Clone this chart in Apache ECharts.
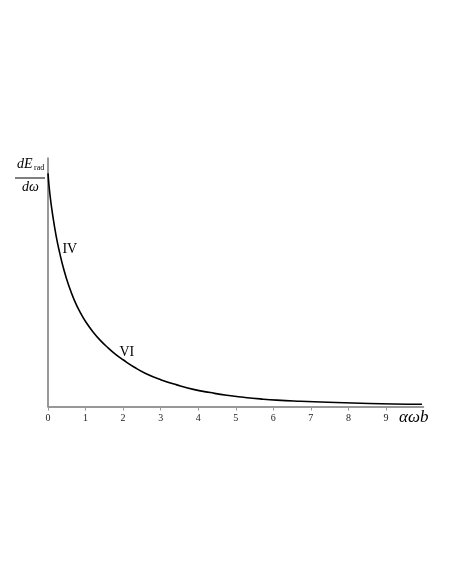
<!DOCTYPE html>
<html>
<head>
<meta charset="utf-8">
<script src="https://cdn.jsdelivr.net/npm/echarts@6/dist/echarts.min.js"></script>
<style>html,body{margin:0;padding:0;background:#fff;}#c{width:454px;height:588px;}</style>
</head>
<body>
<div id="c"></div>
<script>
const xValues = [0, 0.05, 0.13, 0.22, 0.31, 0.42, 0.55, 0.70, 0.85, 1.0, 1.2, 1.4, 1.6, 1.8, 2.0, 2.3, 2.6, 3.0, 3.43, 3.87, 4.32, 4.76, 5.21, 5.65, 6.09, 6.72, 7.45, 8.33, 9.2, 9.96];
const yValues = [0.938, 0.855, 0.765, 0.684, 0.619, 0.552, 0.488, 0.428, 0.381, 0.342, 0.300, 0.265, 0.236, 0.210, 0.188, 0.158, 0.133, 0.108, 0.087, 0.069, 0.056, 0.045, 0.037, 0.0305, 0.0255, 0.021, 0.017, 0.013, 0.010, 0.009];
const tickLabels = [0, 1, 2, 3, 4, 5, 6, 7, 8, 9];
const curveLabels = [
  { name: 'IV', x: 0.58, y: 0.634 },
  { name: 'VI', x: 2.1, y: 0.219 }
];

const chart = echarts.init(document.getElementById('c'));
const serif = '"Liberation Serif", "DejaVu Serif", serif';
chart.setOption({
  animation: false,
  backgroundColor: '#fff',
  grid: { left: 48, top: 158, right: 30.5, bottom: 181.5, containLabel: false },
  xAxis: {
    type: 'value', min: 0, max: 10, interval: 1,
    axisLine: { lineStyle: { color: '#777', width: 1.5 } },
    axisTick: { show: true, length: 4, inside: false, customValues: tickLabels, lineStyle: { color: '#999', width: 1 } },
    axisLabel: { customValues: tickLabels, color: '#222', fontFamily: serif, fontSize: 10, margin: 7 },
    splitLine: { show: false }
  },
  yAxis: {
    type: 'value', min: 0, max: 1,
    axisLine: { show: true, lineStyle: { color: '#777', width: 1.5 } },
    axisTick: { show: false },
    axisLabel: { show: false },
    splitLine: { show: false }
  },
  series: [{
    type: 'line',
    data: xValues.map((x, i) => [x, yValues[i]]),
    smooth: 0.5,
    symbol: 'none',
    lineStyle: { color: '#000', width: 1.6 },
    markPoint: {
      symbol: 'circle', symbolSize: 0,
      data: curveLabels.map(l => ({ name: l.name, coord: [l.x, l.y] })),
      label: { show: true, position: 'inside', formatter: p => p.name, color: '#000', fontFamily: serif, fontSize: 14 }
    }
  }],
  graphic: [
    { type: 'text', left: 17, top: 157, style: { text: 'dE', font: 'italic 14px ' + serif, fill: '#000' } },
    { type: 'text', left: 34, top: 164, style: { text: 'rad', font: '8px ' + serif, fill: '#000' } },
    { type: 'line', shape: { x1: 15, y1: 178, x2: 45, y2: 178 }, style: { stroke: '#000', lineWidth: 1 } },
    { type: 'text', left: 22, top: 180, style: { text: 'dω', font: 'italic 14px ' + serif, fill: '#000' } },
    { type: 'text', left: 399, top: 409, style: { text: 'αωb', font: 'italic 17px ' + serif, fill: '#000' } }
  ]
});
</script>
</body>
</html>
